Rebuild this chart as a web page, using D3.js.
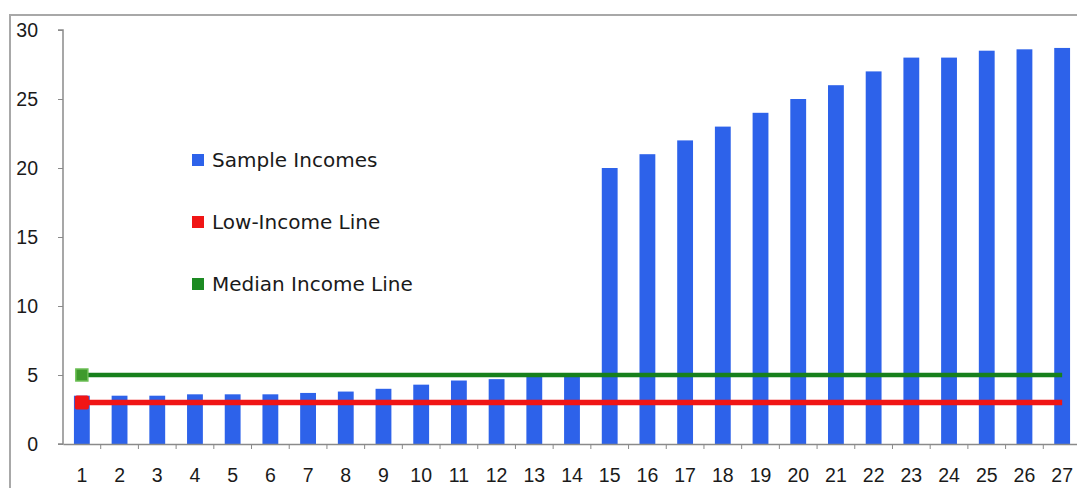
<!DOCTYPE html>
<html>
<head>
<meta charset="utf-8">
<script src="https://cdn.jsdelivr.net/npm/d3@7"></script>
<style>
  html, body { margin: 0; padding: 0; background: #fff; overflow: hidden; }
  svg { display: block; font-family: "DejaVu Sans", "Open Sans", sans-serif; }
</style>
</head>
<body>
<div id="chart"></div>
<script>
// categories and values
const categories = d3.range(1, 28).map(String);
const sampleIncomes = [3.5, 3.5, 3.5, 3.6, 3.6, 3.6, 3.7, 3.8, 4.0, 4.3, 4.6, 4.7, 5.0, 5.0,
  20, 21, 22, 23, 24, 25, 26, 27, 28, 28, 28.5, 28.6, 28.7];
const lowIncomeLine = categories.map(() => 3);
const medianIncomeLine = categories.map(() => 5);
const yTicks = [0, 5, 10, 15, 20, 25, 30];
const legendItems = ["Sample Incomes", "Low-Income Line", "Median Income Line"];

const width = 1077, height = 488;
const margin = { left: 63, right: -4, top: 30, bottom: 44 };

const svg = d3.select("#chart").append("svg")
    .attr("width", width)
    .attr("height", height);

// outer chart-area frame
svg.append("path")
    .attr("d", `M10,${height} V15 H${width}`)
    .attr("fill", "none")
    .attr("stroke", "#a8a8a8")
    .attr("stroke-width", 2);

const x = d3.scaleBand()
    .domain(categories)
    .range([margin.left, width - margin.right])
    .paddingInner(0.58)
    .paddingOuter(0.29);

const xLine = d3.scaleBand()
    .domain(categories)
    .range([margin.left, width - margin.right]);

const y = d3.scaleLinear()
    .domain([0, 30])
    .range([height - margin.bottom, margin.top]);

// y axis
const yAxis = svg.append("g")
    .attr("transform", `translate(${margin.left},0)`)
    .call(d3.axisLeft(y).tickValues(yTicks).tickSize(5).tickPadding(20));
yAxis.select(".domain").attr("stroke", "#8a8a8a").attr("stroke-width", 1.5)
    .attr("d", `M-5,${y(30)}H0V${y(0)}H-5`);
yAxis.selectAll(".tick line").attr("stroke", "#8a8a8a");
yAxis.selectAll(".tick text")
    .attr("fill", "#1a1a1a")
    .style("font-size", "19.5px");

// bars
svg.append("g")
  .selectAll("rect")
  .data(sampleIncomes)
  .join("rect")
    .attr("x", (d, i) => x(categories[i]))
    .attr("y", d => y(d))
    .attr("width", x.bandwidth())
    .attr("height", d => y(0) - y(d))
    .attr("fill", "#2d62ea");

// x axis
const xAxis = svg.append("g")
    .attr("transform", `translate(0,${y(0)})`)
    .call(d3.axisBottom(xLine).tickSize(0).tickPadding(24));
xAxis.select(".domain").attr("stroke", "#8a8a8a").attr("stroke-width", 1.5);
xAxis.selectAll(".tick text")
    .attr("fill", "#1a1a1a")
    .style("font-size", "19.5px");
// tick marks between categories
xAxis.selectAll(".sep")
  .data(categories.slice(1))
  .join("line")
    .attr("class", "sep")
    .attr("x1", d => xLine(d))
    .attr("x2", d => xLine(d))
    .attr("y1", 0)
    .attr("y2", 5)
    .attr("stroke", "#8a8a8a");

// lines
const lineGen = d3.line()
    .x((d, i) => xLine(categories[i]) + xLine.bandwidth() / 2)
    .y(d => y(d));

svg.append("path")
    .datum(medianIncomeLine)
    .attr("d", lineGen)
    .attr("fill", "none")
    .attr("stroke", "#17801c")
    .attr("stroke-width", 4.5);

svg.append("path")
    .datum(lowIncomeLine)
    .attr("d", lineGen)
    .attr("fill", "none")
    .attr("stroke", "#f01515")
    .attr("stroke-width", 5.5);

// first-point markers
const cx0 = xLine(categories[0]) + xLine.bandwidth() / 2;
svg.append("rect")
    .attr("x", cx0 - 6).attr("y", y(medianIncomeLine[0]) - 6)
    .attr("width", 12).attr("height", 12)
    .attr("fill", "#3f9a2c")
    .attr("stroke", "#6cbf55").attr("stroke-width", 1.5);
svg.append("rect")
    .attr("x", cx0 - 7).attr("y", y(lowIncomeLine[0]) - 7)
    .attr("width", 14).attr("height", 14)
    .attr("rx", 2)
    .attr("fill", "#f01515");

// legend
const legendColors = ["#2d62ea", "#f01515", "#1c8a22"];
const legend = svg.append("g")
  .selectAll("g")
  .data(legendItems)
  .join("g")
    .attr("transform", (d, i) => `translate(192,${160 + i * 62})`);
legend.append("rect")
    .attr("x", 0).attr("y", -6)
    .attr("width", 12).attr("height", 12)
    .attr("fill", (d, i) => legendColors[i]);
legend.append("text")
    .attr("x", 20)
    .attr("dy", "0.36em")
    .attr("fill", "#1a1a1a")
    .style("font-size", "20px")
    .text(d => d);
</script>
</body>
</html>
